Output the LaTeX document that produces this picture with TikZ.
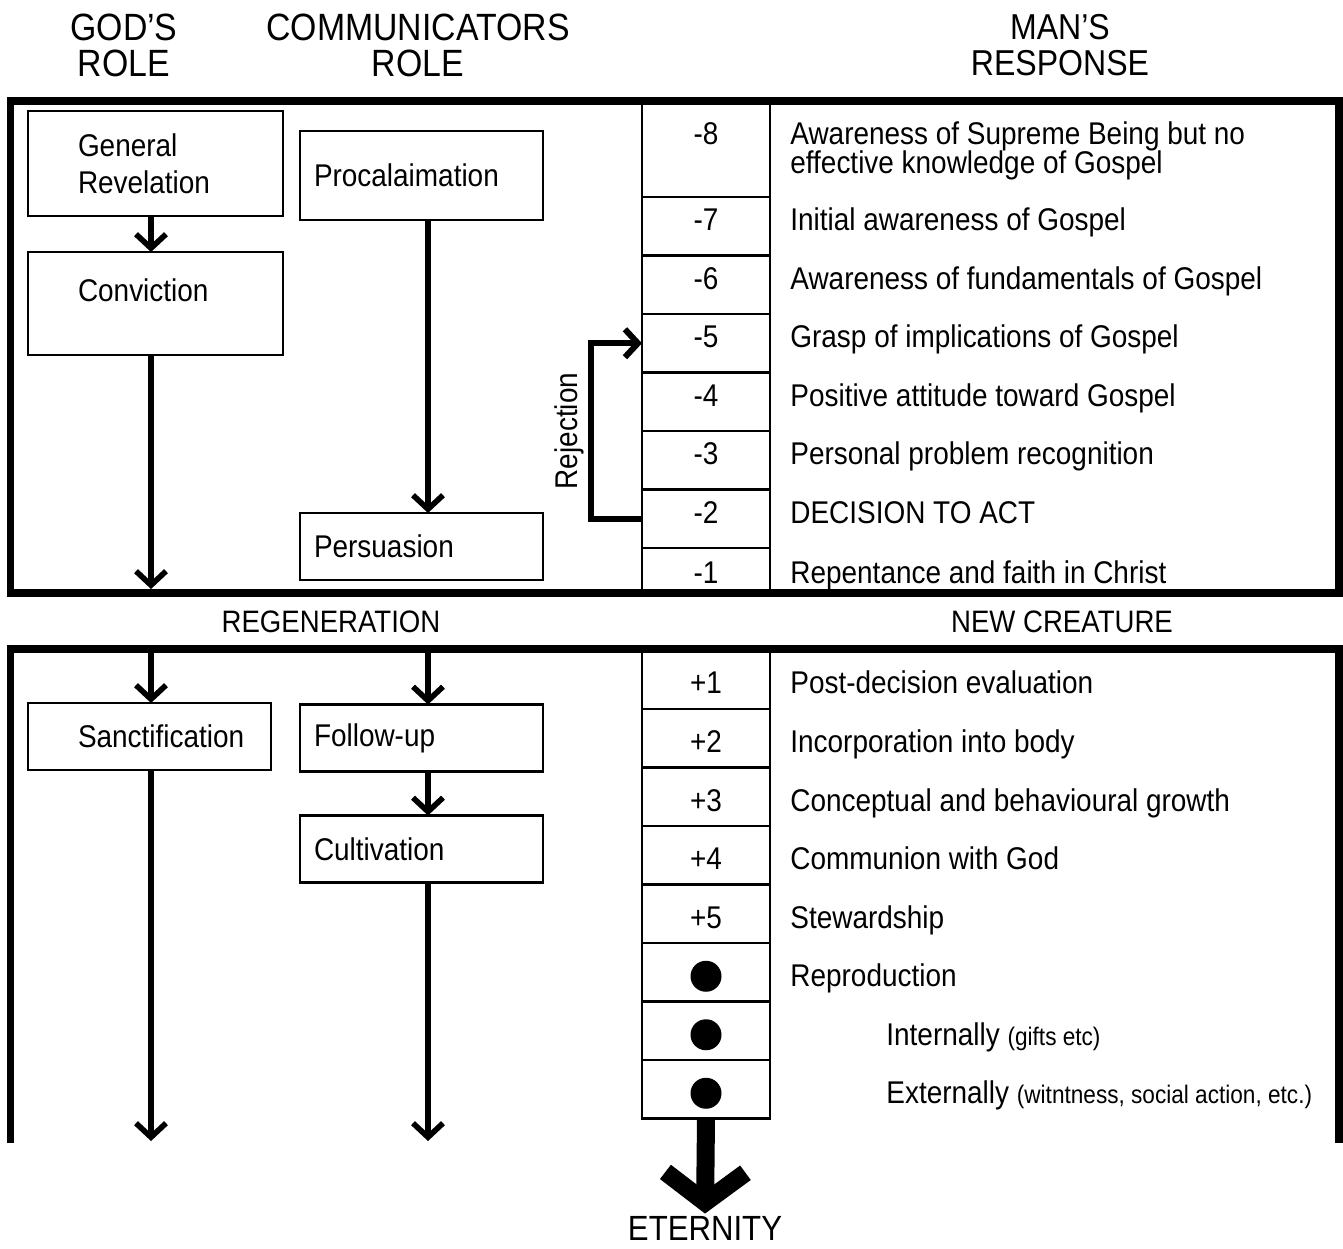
\documentclass[tikz,border=0pt]{standalone}
\usepackage{fontspec}
\setmainfont{Liberation Sans}[FakeStretch=0.89]
\usetikzlibrary{arrows.meta,positioning}
\newcommand\asidetxt[1]{{\fontsize{12.7}{14}\selectfont #1}}

\begin{document}
\begin{tikzpicture}[x=0.5pt,y=-0.5pt,node distance=0pt,
  every node/.style={font=\fontsize{15.7}{17}\selectfont},
  head/.style={align=center,font=\fontsize{19}{18}\selectfont},
  frame/.style={line width=3.75pt},
  box/.style={draw,line width=1.4pt,outer sep=0pt,align=left,minimum height=33.5pt,font=\fontsize{15.7}{18.5}\selectfont},
  gbox/.style={box,text width=77.5pt,inner xsep=25pt},
  cbox/.style={box,text width=107.5pt,inner xsep=7pt},
  cell/.style={draw,line width=1.4pt,outer sep=0pt,inner sep=0pt,minimum width=64pt,minimum height=29.25pt},
  up/.style={text height=11pt,text depth=6.5pt},
  low/.style={text height=15pt,text depth=0.5pt},
  desc/.style={anchor=base west,inner sep=0pt},
  dot/.style={circle,fill,inner sep=0pt,minimum size=15.5pt},
  arr/.style={line width=2.8pt,-{Straight Barb[length=7pt,width=15pt,sharp]}},
  rej/.style={line width=3pt,-{Straight Barb[length=6.5pt,width=14pt,sharp]}},
  bigarr/.style={line width=9pt,-{Straight Barb[length=15pt,width=40pt,sharp]}}]
\useasboundingbox (0,0) rectangle (1343,1248);
% column headings
\node[head] (godh) at (124,45) {GOD’S\\ROLE};
\node[head] (comh) at (418,45) {COMMUNICATORS\\ROLE};
\node[head,font=\fontsize{18}{18}\selectfont] (manh) at (1060,45) {MAN’S\\RESPONSE};
% the two frames
\draw[frame] (10.5,101) rectangle (1339,593);
\draw[frame] (10.5,1143) -- (10.5,649) -- (1339,649) -- (1339,1143);
\node[font=\fontsize{15.5}{17}\selectfont] (regen) at (331,622) {REGENERATION};
\node[font=\fontsize{15.5}{17}\selectfont] (newcr) at (1062,622) {NEW CREATURE};
% role boxes
\node[gbox,minimum height=52.5pt] (genrev) at (155.5,163.5) {General\\Revelation};
\node[gbox,minimum height=51.5pt,text depth=13.5pt] (conv) at (155.5,303.5) {Conviction};
\node[cbox,minimum height=44.5pt] (procl) at (421.5,175.5) {Procalaimation};
\node[cbox] (pers) at (421.5,546.5) {Persuasion};
\node[gbox,text width=71.5pt] (sanct) at (149.5,736.5) {Sanctification};
\node[cbox] (follow) at (421.5,738) {Follow-up};
\node[cbox] (cultiv) at (421.5,849) {Cultivation};
% stages before the decision
\node[cell,minimum height=48pt,text height=5pt,text depth=10pt] (m8) at (706,149) {-8};
\node[cell,up,below=of m8] (m7) {-7};
\node[cell,up,below=of m7] (m6) {-6};
\node[cell,up,below=of m6] (m5) {-5};
\node[cell,up,below=of m5] (m4) {-4};
\node[cell,up,below=of m4] (m3) {-3};
\node[cell,up,below=of m3] (m2) {-2};
\node[cell,minimum height=22.5pt,text height=13pt,text depth=0.5pt,below=of m2] (m1) {-1};
% stages after
\node[cell,low,minimum height=30pt] (p1) at (706,679) {+1};
\node[cell,low,below=of p1] (p2) {+2};
\node[cell,low,below=of p2] (p3) {+3};
\node[cell,low,below=of p3] (p4) {+4};
\node[cell,low,below=of p4] (p5) {+5};
\node[cell,low,below=of p5] (r1) {};
\node[cell,low,below=of r1] (r2) {};
\node[cell,low,below=of r2] (r3) {};
\node[dot] (r1d) at ([yshift=-2pt]r1.center) {};
\node[dot] (r2d) at ([yshift=-2pt]r2.center) {};
\node[dot] (r3d) at ([yshift=-2pt]r3.center) {};
% responses
\coordinate (tx) at (790,0);
\coordinate (tx2) at (886,0);
\node[anchor=north west,inner sep=0pt,align=left,font={\fontsize{15.7}{14.5}\selectfont\lineskiplimit=-20pt}] (m8t) at (790,121) {Awareness of Supreme Being but no\\effective knowledge of Gospel};
\node[desc] (m7t) at (m7.base -| tx) {Initial awareness of Gospel};
\node[desc] (m6t) at (m6.base -| tx) {Awareness of fundamentals of Gospel};
\node[desc] (m5t) at (m5.base -| tx) {Grasp of implications of Gospel};
\node[desc] (m4t) at (m4.base -| tx) {Positive attitude toward Gospel};
\node[desc] (m3t) at (m3.base -| tx) {Personal problem recognition};
\node[desc] (m2t) at (m2.base -| tx) {DECISION TO ACT};
\node[desc] (m1t) at (m1.base -| tx) {Repentance and faith in Christ};
\node[desc] (p1t) at (p1.base -| tx) {Post-decision evaluation};
\node[desc] (p2t) at (p2.base -| tx) {Incorporation into body};
\node[desc] (p3t) at (p3.base -| tx) {Conceptual and behavioural growth};
\node[desc] (p4t) at (p4.base -| tx) {Communion with God};
\node[desc] (p5t) at (p5.base -| tx) {Stewardship};
\node[desc] (r1t) at (r1.base -| tx) {Reproduction};
\node[desc] (r2t) at (r2.base -| tx2) {Internally \asidetxt{(gifts etc)}};
\node[desc] (r3t) at (r3.base -| tx2) {Externally \asidetxt{(witntness, social action, etc.)}};
% arrows
\coordinate (colG) at (151,0);
\coordinate (colC) at (428,0);
\coordinate (topG) at (151,589);
\coordinate (regG) at (151,649);
\coordinate (regC) at (428,649);
\coordinate (endG) at (151,1141);
\coordinate (endC) at (428,1141);
\draw[arr] (genrev.south -| colG) -- (conv.north -| colG);
\draw[arr] (conv.south -| colG) -- (topG);
\draw[arr] (procl.south -| colC) -- (pers.north -| colC);
\draw[arr] (regG) -- (sanct.north -| colG);
\draw[arr] (sanct.south -| colG) -- (endG);
\draw[arr] (regC) -- (follow.north -| colC);
\draw[arr] (follow.south -| colC) -- (cultiv.north -| colC);
\draw[arr] (cultiv.south -| colC) -- (endC);
\draw[rej] (m2.west) -- ++(-51,0) |- node[pos=0.25,rotate=90,anchor=south,inner sep=2pt] (rejl) {Rejection} (m5.west);
\node[font=\fontsize{17.5}{18}\selectfont,inner sep=1pt] (eter) at (705,1228) {ETERNITY};
\draw[bigarr] (r3.south) -- (eter.north);
\end{tikzpicture}
\end{document}
